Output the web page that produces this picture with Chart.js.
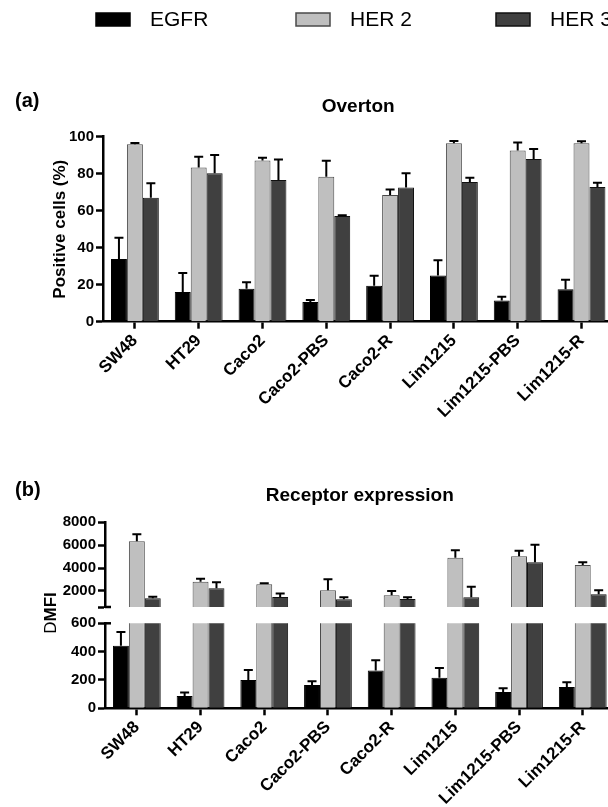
<!DOCTYPE html>
<html>
<head>
<meta charset="utf-8">
<script src="https://cdn.jsdelivr.net/npm/chart.js@4.4.1/dist/chart.umd.min.js"></script>
<style>
html, body { margin: 0; padding: 0; background: #fff; width: 608px; height: 807px; overflow: hidden; }
canvas { position: absolute; left: 0; }
#chartA { top: 0; }
#chartB1 { top: 470px; }
#chartB2 { top: 575px; }
</style>
</head>
<body>
<canvas id="chartA" width="640" height="420"></canvas>
<canvas id="chartB1" width="640" height="150"></canvas>
<canvas id="chartB2" width="640" height="232"></canvas>
<script>
// lineas celulares y receptores
const lineas = ['SW48', 'HT29', 'Caco2', 'Caco2-PBS', 'Caco2-R', 'Lim1215', 'Lim1215-PBS', 'Lim1215-R'];
const receptores = ['EGFR', 'HER 2', 'HER 3'];

// (a) Overton - % celulas positivas (media y error hacia arriba)
const egfrPos = [33.9, 16.0, 17.8, 10.6, 19.5, 25.0, 11.5, 17.5];
const her2Pos = [95.9, 83.4, 87.2, 78.4, 68.5, 96.4, 92.6, 96.4];
const her3Pos = [67.0, 80.2, 76.6, 57.1, 72.6, 75.5, 87.9, 72.8];
const egfrPosErr = [11.5, 10.3, 3.5, 1.1, 5.4, 8.2, 2.0, 5.2];
const her2PosErr = [0.7, 5.8, 1.4, 8.6, 3.0, 1.3, 4.2, 1.1];
const her3PosErr = [7.8, 9.9, 11.1, 0.4, 7.6, 2.3, 5.4, 2.3];

// (b) Receptor expression - DMFI
const egfrMfi = [442, 87, 200, 165, 266, 216, 115, 151];
const her2Mfi = [6340, 2815, 2580, 2060, 1620, 4910, 5030, 4270];
const her3Mfi = [1360, 2230, 1480, 1270, 1300, 1450, 4500, 1710];
const egfrMfiErr = [97, 24, 71, 26, 73, 69, 26, 33];
const her2MfiErr = [610, 260, 90, 960, 380, 640, 490, 230];
const her3MfiErr = [145, 525, 290, 175, 145, 930, 1540, 350];

// marcas del eje partido (600 sin etiqueta)
const ticksMfiAlto = [600, 2000, 4000, 6000, 8000];
const ticksMfiBajo = [0, 200, 400, 600];

const colores = ['#000000', '#bfbfbf', '#404040'];
const bordes = ['#000000', '#4a4a4a', '#111111'];
const fuente = "'Liberation Sans', Arial, Helvetica, sans-serif";
Chart.defaults.font.family = fuente;
Chart.defaults.color = '#000';

function armarDatos(valores, errores) {
    return {
        labels: lineas,
        datasets: receptores.map(function (r, k) {
            return {
                label: r,
                data: valores[k],
                err: errores[k],
                backgroundColor: colores[k],
                borderColor: bordes[k],
                borderWidth: 1,
                clip: 0,
                categoryPercentage: 0.75,
                barPercentage: 1.0
            };
        })
    };
}

// barras de error solo hacia arriba
const barrasError = {
    id: 'barrasError',
    afterDatasetsDraw(chart) {
        const ctx = chart.ctx, y = chart.scales.y;
        ctx.save();
        ctx.strokeStyle = '#000';
        ctx.lineWidth = 2;
        chart.data.datasets.forEach(function (ds, k) {
            chart.getDatasetMeta(k).data.forEach(function (bar, i) {
                const v = ds.data[i], tope = v + ds.err[i];
                if (v < y.min || tope > y.max) return;
                const y0 = y.getPixelForValue(v), y1 = y.getPixelForValue(tope);
                ctx.beginPath();
                ctx.moveTo(bar.x, y0);
                ctx.lineTo(bar.x, y1);
                ctx.moveTo(bar.x - 4.5, y1);
                ctx.lineTo(bar.x + 4.5, y1);
                ctx.stroke();
            });
        });
        ctx.restore();
    }
};

// letras de panel, titulos, leyenda, corte del eje y etiqueta DMFI
const rotulos = {
    id: 'rotulos',
    afterDraw(chart, args, o) {
        const ctx = chart.ctx, a = chart.chartArea;
        ctx.save();
        ctx.fillStyle = '#000';
        ctx.textBaseline = 'middle';
        if (o.letra) {
            ctx.font = 'bold 20px ' + fuente;
            ctx.textAlign = 'left';
            ctx.fillText(o.letra, 15, o.letraY);
        }
        if (o.titulo) {
            ctx.font = 'bold 19px ' + fuente;
            ctx.textAlign = 'center';
            ctx.fillText(o.titulo, (a.left + a.right) / 2, o.tituloY);
        }
        if (o.leyenda) {
            ctx.font = '21px ' + fuente;
            ctx.textAlign = 'left';
            chart.data.datasets.forEach(function (ds, k) {
                const x = 96 + k * 200;
                ctx.fillStyle = ds.backgroundColor;
                ctx.fillRect(x, 13, 34, 13);
                ctx.strokeStyle = ds.borderColor;
                ctx.lineWidth = 1.5;
                ctx.strokeRect(x, 13, 34, 13);
                ctx.fillStyle = '#000';
                ctx.fillText(ds.label, x + 54, 20);
            });
        }
        if (o.corte !== undefined) {
            const yc = chart.scales.y.getPixelForValue(o.corte);
            ctx.strokeStyle = '#000';
            ctx.lineWidth = 2.5;
            ctx.beginPath();
            ctx.moveTo(a.left, yc);
            ctx.lineTo(a.left + 6, yc);
            ctx.stroke();
        }
        if (o.ejeTexto) {
            ctx.translate(o.ejeX, o.ejeY);
            ctx.rotate(-Math.PI / 2);
            ctx.textAlign = 'left';
            ctx.font = '17px ' + fuente;
            const wD = ctx.measureText('D').width;
            ctx.font = 'bold 17px ' + fuente;
            const wM = ctx.measureText('MFI').width;
            const x0 = -(wD + wM) / 2;
            ctx.font = '17px ' + fuente;
            ctx.fillText('D', x0, 0);
            ctx.font = 'bold 17px ' + fuente;
            ctx.fillText('MFI', x0 + wD, 0);
        }
        ctx.restore();
    }
};

function ejeX(visible, alto) {
    return {
        display: visible,
        grid: { display: true, drawOnChartArea: false, drawTicks: true, tickLength: 7, tickWidth: 2.5, tickColor: '#000', offset: false },
        border: { display: true, color: '#000', width: 2.5 },
        ticks: { autoSkip: false, maxRotation: 45, minRotation: 45, padding: 2, color: '#000', font: { size: 17, weight: 'bold' } },
        afterFit: function (s) { s.height = alto; }
    };
}

function ejeY(min, max, marcas, ancho, titulo) {
    return {
        min: min, max: max,
        grid: { display: true, drawOnChartArea: false, drawTicks: true, tickLength: 7, tickWidth: 2.5, tickColor: '#000' },
        border: { display: true, color: '#000', width: 2.5 },
        ticks: {
            padding: 2, color: '#000', font: { size: 15, weight: 'bold' },
            callback: function (v) { return v === 600 && min === 600 ? '' : v; }
        },
        afterBuildTicks: function (s) { s.ticks = marcas.map(function (v) { return { value: v }; }); },
        title: titulo ? { display: true, text: titulo, color: '#000', font: { size: 17, weight: 'bold' }, padding: { top: 5, bottom: 0 } } : { display: false },
        afterFit: function (s) { s.width = ancho; }
    };
}

function opciones(x, y, pad, extra) {
    return {
        responsive: false,
        animation: false,
        layout: { padding: pad },
        plugins: { legend: { display: false }, tooltip: { enabled: false }, rotulos: extra },
        scales: { x: x, y: y }
    };
}

new Chart(document.getElementById('chartA'), {
    type: 'bar',
    data: armarDatos([egfrPos, her2Pos, her3Pos], [egfrPosErr, her2PosErr, her3PosErr]),
    options: opciones(ejeX(true, 98.3), ejeY(0, 100, [0, 20, 40, 60, 80, 100], 58, 'Positive cells (%)'),
        { left: 45, right: 26.6, top: 136.7, bottom: 0 },
        { letra: '(a)', letraY: 101, titulo: 'Overton', tituloY: 107, leyenda: true }),
    plugins: [barrasError, rotulos]
});

new Chart(document.getElementById('chartB1'), {
    type: 'bar',
    data: armarDatos([egfrMfi, her2Mfi, her3Mfi], [egfrMfiErr, her2MfiErr, her3MfiErr]),
    options: opciones(ejeX(false, 0), ejeY(600, 8000, ticksMfiAlto, 60, null),
        { left: 45, right: 25.4, top: 52.3, bottom: 13 },
        { letra: '(b)', letraY: 20, titulo: 'Receptor expression', tituloY: 26, corte: 600 }),
    plugins: [barrasError, rotulos]
});

new Chart(document.getElementById('chartB2'), {
    type: 'bar',
    data: armarDatos([egfrMfi, her2Mfi, her3Mfi], [egfrMfiErr, her2MfiErr, her3MfiErr]),
    options: opciones(ejeX(true, 98.7), ejeY(0, 600, ticksMfiBajo, 60, null),
        { left: 45, right: 25.4, top: 48.3, bottom: 0 },
        { corte: 600, ejeTexto: true, ejeX: 51, ejeY: 38 }),
    plugins: [barrasError, rotulos]
});
</script>
</body>
</html>
